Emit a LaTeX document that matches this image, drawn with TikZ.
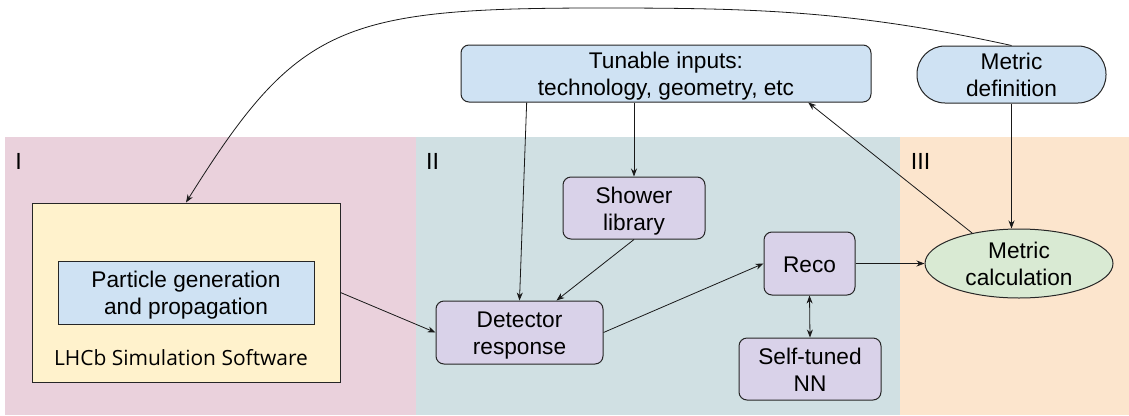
\documentclass[tikz,border=0pt]{standalone}
\usepackage{fontspec}
\setmainfont{Liberation Sans}
\newfontfamily\lhcbfont{Open Sans}
\usetikzlibrary{arrows.meta,calc,shapes.geometric}
\definecolor{bgI}{HTML}{EAD1DC}
\definecolor{bgII}{HTML}{D0E0E3}
\definecolor{bgIII}{HTML}{FCE5CD}
\definecolor{cblue}{HTML}{CFE2F3}
\definecolor{cpurple}{HTML}{D9D2E9}
\definecolor{cgreen}{HTML}{D9EAD3}
\definecolor{cyellow}{HTML}{FFF2CC}
\newcommand\pxu{0.75pt}
\tikzset{
  box/.style={draw=black!85, line width=0.75pt, align=center, inner sep=0pt,
    text height=33pt, text depth=0pt,
    font=\fontsize{17}{20.25}\selectfont},
  rbox/.style={box, rounded corners=6pt},
  arr/.style={-{Stealth[length=6pt,width=4.5pt]}, line width=0.6pt, black!90},
  darr/.style={{Stealth[length=6pt,width=4.5pt]}-{Stealth[length=6pt,width=4.5pt]}, line width=0.6pt, black!90},
  roman/.style={font=\fontsize{17.5}{20}\selectfont, anchor=center, inner sep=0pt}
}
\begin{document}
\begin{tikzpicture}[x=0.75pt,y=-0.75pt]
\useasboundingbox (0,0) rectangle (1129,415);
% background panels
\fill[bgI] (5,137) rectangle (416,415);
\fill[bgII] (416,137) rectangle (900,415);
\fill[bgIII] (900,137) rectangle (1129,415);
\node[roman] (rI) at (18.5,161.5) {I};
\node[roman] (rII) at (432.5,161.5) {II};
\node[roman] (rIII) at (920.5,161.5) {III};
% nodes
\node[box, fill=cyellow, minimum width=308*\pxu, minimum height=179*\pxu] (lhcb) at (186,292.5) {};
\node[box, fill=cblue, minimum width=256*\pxu, minimum height=63*\pxu] (pgen) at (186,292.5) {Particle generation\\and propagation};
\node[font=\lhcbfont\fontsize{15.7}{18}\selectfont] (lhcbl) at (181,358) {LHCb Simulation Software};
\node[rbox, fill=cblue, minimum width=410*\pxu, minimum height=57*\pxu] (tun) at (666,73.5) {Tunable inputs:\\technology, geometry, etc};
\node[box, fill=cblue, rounded corners=21pt, minimum width=189*\pxu, minimum height=57*\pxu] (mdef) at (1011.5,74.5) {Metric\\definition};
\node[rbox, fill=cpurple, minimum width=142*\pxu, minimum height=62*\pxu] (shower) at (634,208) {Shower\\library};
\node[rbox, fill=cpurple, minimum width=167*\pxu, minimum height=63*\pxu] (det) at (519.5,332.5) {Detector\\response};
\node[rbox, fill=cpurple, text height=12.75pt, minimum width=91*\pxu, minimum height=63*\pxu] (reco) at (809.5,263.5) {Reco};
\node[rbox, fill=cpurple, minimum width=142*\pxu, minimum height=62*\pxu] (nn) at (810,369) {Self-tuned\\NN};
\node[box, ellipse, inner sep=0pt, fill=cgreen, minimum width=188*\pxu, minimum height=69*\pxu] (mcalc) at (1019,263.5) {Metric\\calculation};
% connectors
\coordinate (ctop) at (600,8);
\draw[arr] (mdef.north) .. controls (850,10) and (750,8) .. (ctop)
  .. controls (340,8) and (297,25) .. (lhcb.north);
\draw[arr] ($(tun.south west)!0.161!(tun.south east)$) -- (det.north);
\draw[arr] (tun.south -| shower.north) -- (shower.north);
\draw[arr] (shower.south) -- ($(det.north west)!0.72!(det.north east)$);
\draw[arr] (lhcb.east) -- (det.west);
\draw[arr] (det.east) -- (reco.west);
\draw[darr] (reco.south) -- (nn.north);
\draw[arr] (reco.east) -- (mcalc.west);
\draw[arr] (mcalc.147) -- ($(tun.south west)!0.846!(tun.south east)$);
\draw[arr] (mdef.south) -- (mdef.south |- mcalc.north);
\end{tikzpicture}
\end{document}
